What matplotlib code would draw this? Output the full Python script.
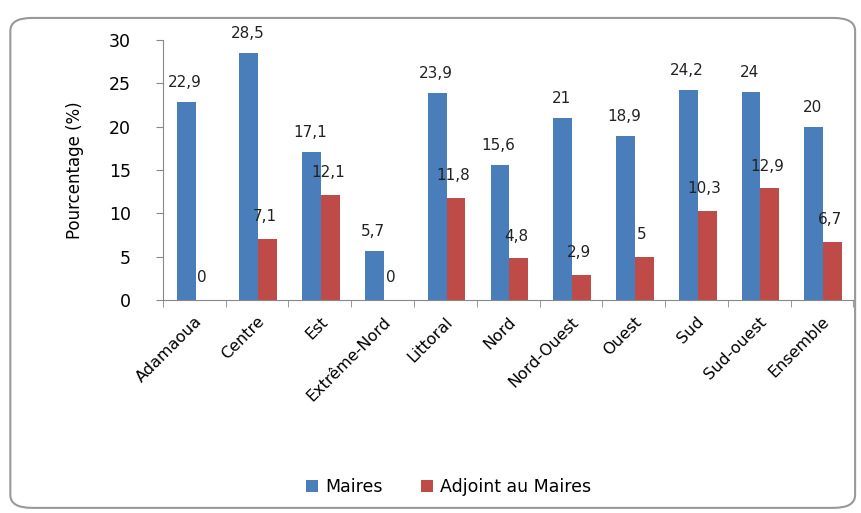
import matplotlib.pyplot as plt
import numpy as np
from matplotlib.patches import FancyBboxPatch

regions = ["Adamaoua", "Centre", "Est", "Extrême-Nord", "Littoral", "Nord",
           "Nord-Ouest", "Ouest", "Sud", "Sud-ouest", "Ensemble"]
maires = [22.9, 28.5, 17.1, 5.7, 23.9, 15.6, 21, 18.9, 24.2, 24, 20]
adjoints = [0, 7.1, 12.1, 0, 11.8, 4.8, 2.9, 5, 10.3, 12.9, 6.7]

blue = "#4A7EBB"
red = "#BE4B48"


def fmt(v):
    s = f"{v:g}"
    return s.replace(".", ",")


fig = plt.figure(figsize=(8.62, 5.13), dpi=100)
ax = fig.add_axes([0.189, 0.415, 0.801, 0.507])

x = np.arange(len(regions))
w = 0.3
b1 = ax.bar(x - w / 2 + 0.02, maires, w, color=blue, label="Maires")
b2 = ax.bar(x + w / 2 + 0.02, adjoints, w, color=red, label="Adjoint au Maires")

for xi, v in zip(x - w / 2 + 0.02, maires):
    ax.annotate(fmt(v), (xi, v), xytext=(-1, 14), textcoords="offset points",
                ha="center", va="center", fontsize=11, color="#222222")
for xi, v in zip(x + w / 2 + 0.02, adjoints):
    ax.annotate(fmt(v), (xi, v), xytext=(-2, 16), textcoords="offset points",
                ha="center", va="center", fontsize=11, color="#222222")

ax.set_xlim(-0.5, len(regions) - 0.5)
ax.set_ylim(0, 30)
ax.set_yticks(range(0, 31, 5))
ax.set_xticks(x)
ax.set_xticklabels(regions, rotation=45, ha="right", rotation_mode="anchor",
                   fontsize=11.5)
ax.set_xticks(np.arange(-0.5, len(regions), 1), minor=True)
ax.tick_params(axis="x", which="major", length=0, pad=10)
ax.tick_params(axis="x", which="minor", length=5, color="#888888")
ax.tick_params(axis="y", length=5, color="#888888", labelsize=12.5, pad=18)

for side in ["top", "right"]:
    ax.spines[side].set_visible(False)
for side in ["left", "bottom"]:
    ax.spines[side].set_color("#888888")

ax.set_ylabel("Pourcentage (%)", fontsize=12, labelpad=18)

fig.legend(handles=[b1, b2], loc="center", bbox_to_anchor=(0.52, 0.05),
           ncol=2, frameon=False, fontsize=12.5, handlelength=0.7,
           handleheight=0.7, columnspacing=2.2, handletextpad=0.4)

border = FancyBboxPatch((0.012, 0.01), 0.98, 0.955,
                        boxstyle="round,pad=0,rounding_size=0.025",
                        transform=fig.transFigure, fill=False,
                        edgecolor="#999999", linewidth=1.5)
fig.patches.append(border)

fig.savefig("out.png", dpi=100)
